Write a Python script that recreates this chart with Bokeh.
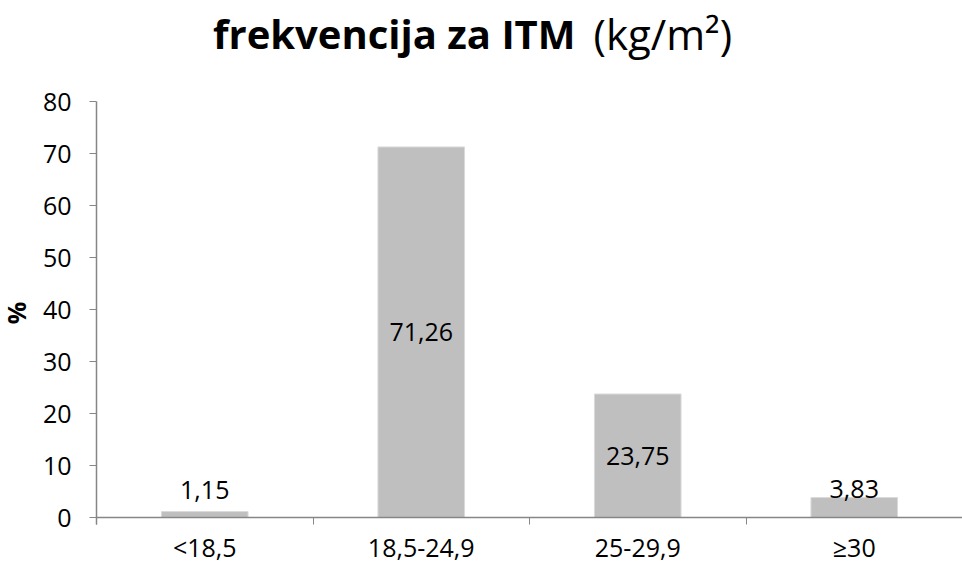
from bokeh.plotting import figure
from bokeh.models import FixedTicker, ColumnDataSource, Range1d, Label
from bokeh.embed import file_html
from bokeh.resources import INLINE
from bokeh.core.properties import value

categories = ["<18,5", "18,5-24,9", "25-29,9", "≥30"]
values = [1.15, 71.26, 23.75, 3.83]
y_ticks = [0, 10, 20, 30, 40, 50, 60, 70, 80]
title_bold = "frekvencija za ITM"
title_unit = "(kg/m²)"

FONT = "Open Sans"
GRAY_AXIS = "#868686"
FS = "25px"

# layout constants (pixels): the frame spans the whole figure, axes sit at fixed data positions
FIG_W, FIG_H = 962, 562
X_ZERO_PX = 96                       # where the y axis falls, from figure left
Y_TOP_PX, Y_ZERO_PX = 101, 517       # where 80 and 0 fall, from figure top
ppu = (Y_ZERO_PX - Y_TOP_PX) / 80.0
y_hi = 80 + Y_TOP_PX / ppu
y_lo = -(FIG_H - Y_ZERO_PX) / ppu
xppu = (FIG_W - X_ZERO_PX) / len(categories)
x_lo = -X_ZERO_PX / xppu
LABEL_MIN_Y = 19 / ppu               # small-bar labels never sit lower than this

xs = [i + 0.5 for i in range(len(categories))]
labels = [f"{v:.2f}".replace(".", ",") for v in values]

inside = [(x, v / 2, t) for x, v, t in zip(xs, values, labels) if v > 10]
outside = [(x, max(v, LABEL_MIN_Y), t) for x, v, t in zip(xs, values, labels) if v <= 10]

p = figure(
    width=FIG_W,
    height=FIG_H,
    output_backend="svg",
    toolbar_location=None,
    x_range=Range1d(x_lo, len(categories)),
    y_range=Range1d(y_lo, y_hi),
    min_border_left=0,
    min_border_right=0,
    min_border_top=0,
    min_border_bottom=0,
)
p.outline_line_color = None
p.xgrid.grid_line_color = None
p.ygrid.grid_line_color = None

src = ColumnDataSource(dict(x=xs, top=values))
p.vbar(x="x", top="top", width=0.4, bottom=0, source=src,
       fill_color="#BFBFBF", line_color="#DADADA", line_width=1)

if inside:
    p.text(x=[a[0] for a in inside], y=[a[1] for a in inside], text=[a[2] for a in inside],
           text_font=value(FONT), text_font_size=FS, text_color="#000000",
           text_align="center", text_baseline="middle")
if outside:
    p.text(x=[a[0] for a in outside], y=[a[1] for a in outside], text=[a[2] for a in outside],
           text_font=value(FONT), text_font_size=FS, text_color="#000000",
           text_align="center", text_baseline="alphabetic", y_offset=-9)

# title (bold part + normal part)
t_y = 80 + 68 / ppu
p.add_layout(Label(x=(575 - X_ZERO_PX) / xppu, y=t_y, text=title_bold, text_font=FONT,
                   text_font_size="40px", text_font_style="bold", text_color="#000000",
                   text_align="right", text_baseline="alphabetic"))
p.add_layout(Label(x=(593 - X_ZERO_PX) / xppu, y=t_y, text=title_unit, text_font=FONT,
                   text_font_size="42px", text_font_style="normal", text_color="#000000",
                   text_align="left", text_baseline="alphabetic"))

# x axis at y = 0
p.xaxis.fixed_location = 0
p.xaxis.bounds = (0, len(categories))
p.xaxis.ticker = FixedTicker(ticks=xs, minor_ticks=list(range(len(categories) + 1)))
p.xaxis.major_label_overrides = {x: c for x, c in zip(xs, categories)}
p.xaxis.major_tick_out = 0
p.xaxis.major_tick_in = 0
p.xaxis.minor_tick_out = 7
p.xaxis.minor_tick_in = 0
p.xaxis.minor_tick_line_color = GRAY_AXIS
p.xaxis.axis_line_color = GRAY_AXIS
p.xaxis.axis_line_width = 1.5
p.xaxis.major_label_text_font = FONT
p.xaxis.major_label_text_font_size = FS
p.xaxis.major_label_text_color = "#000000"
p.xaxis.major_label_standoff = 5

# y axis at x = 0
p.yaxis.fixed_location = 0
p.yaxis.bounds = (-7 / ppu, 80)
p.yaxis.ticker = FixedTicker(ticks=y_ticks)
p.yaxis.major_tick_out = 7
p.yaxis.major_tick_in = 0
p.yaxis.minor_tick_out = 0
p.yaxis.minor_tick_in = 0
p.yaxis.major_tick_line_color = GRAY_AXIS
p.yaxis.axis_line_color = GRAY_AXIS
p.yaxis.axis_line_width = 1.5
p.yaxis.major_label_text_font = FONT
p.yaxis.major_label_text_font_size = FS
p.yaxis.major_label_text_color = "#000000"
p.yaxis.major_label_standoff = 18
p.yaxis.axis_label = "%"
p.yaxis.axis_label_text_font = FONT
p.yaxis.axis_label_text_font_size = FS
p.yaxis.axis_label_text_font_style = "bold"
p.yaxis.axis_label_text_color = "#000000"
p.yaxis.axis_label_standoff = 7

open("out.html", "w").write(file_html(p, INLINE))
